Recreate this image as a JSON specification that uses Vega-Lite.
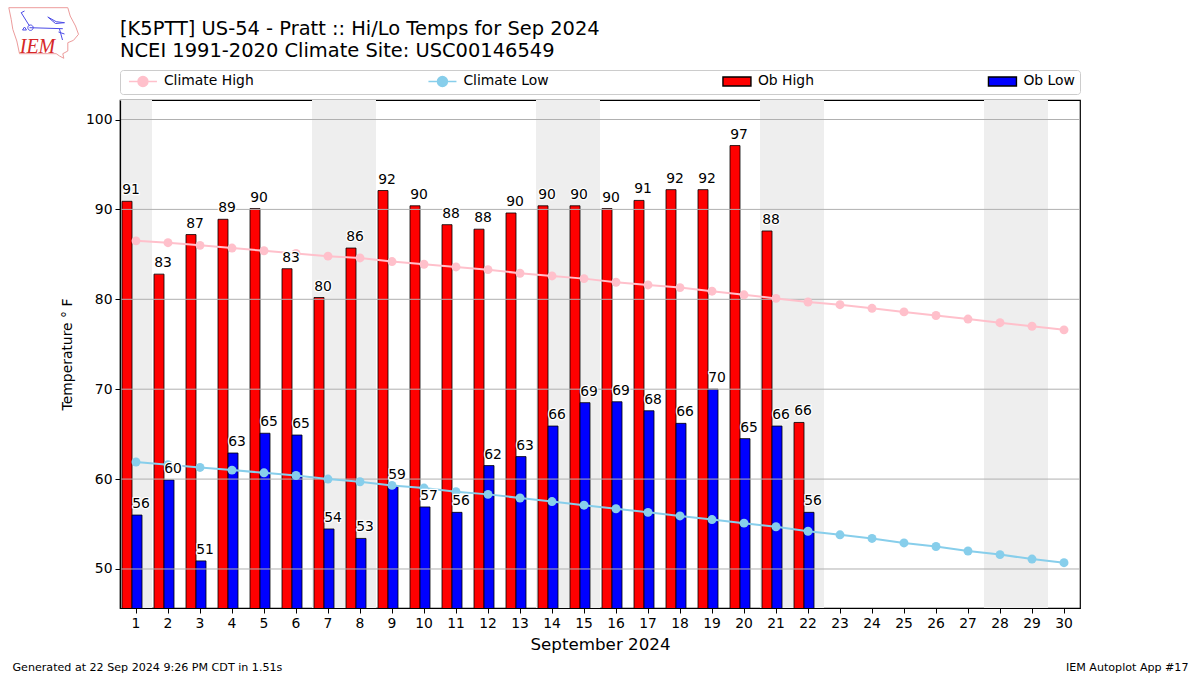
{"$schema":"https://vega.github.io/schema/vega-lite/v6.json","width":960,"height":508,"autosize":{"type":"none"},"padding":{"left":120,"top":100,"right":120,"bottom":67},"background":"white","config":{"view":{"stroke":"black","strokeWidth":1.2},"font":"DejaVu Sans","text":{"font":"DejaVu Sans"}},"title":{"text":["[K5PTT] US-54 - Pratt :: Hi/Lo Temps for Sep 2024","NCEI 1991-2020 Climate Site: USC00146549"],"anchor":"start","frame":"group","font":"DejaVu Sans","fontSize":19.45,"fontWeight":"normal","lineHeight":21.5,"offset":0,"dy":33,"color":"black"},"datasets":{"weekend":[{"day":1},{"day":7},{"day":8},{"day":14},{"day":15},{"day":21},{"day":22},{"day":28},{"day":29}],"grid":[{"value":50},{"value":60},{"value":70},{"value":80},{"value":90},{"value":100}],"obs":[{"day":1,"series":"Ob High","value":90.9},{"day":2,"series":"Ob High","value":82.8},{"day":3,"series":"Ob High","value":87.2},{"day":4,"series":"Ob High","value":88.9},{"day":5,"series":"Ob High","value":90.1},{"day":6,"series":"Ob High","value":83.4},{"day":7,"series":"Ob High","value":80.2},{"day":8,"series":"Ob High","value":85.7},{"day":9,"series":"Ob High","value":92.1},{"day":10,"series":"Ob High","value":90.4},{"day":11,"series":"Ob High","value":88.3},{"day":12,"series":"Ob High","value":87.8},{"day":13,"series":"Ob High","value":89.6},{"day":14,"series":"Ob High","value":90.4},{"day":15,"series":"Ob High","value":90.4},{"day":16,"series":"Ob High","value":90.1},{"day":17,"series":"Ob High","value":91.0},{"day":18,"series":"Ob High","value":92.2},{"day":19,"series":"Ob High","value":92.2},{"day":20,"series":"Ob High","value":97.1},{"day":21,"series":"Ob High","value":87.6},{"day":22,"series":"Ob High","value":66.3},{"day":1,"series":"Ob Low","value":56.0},{"day":2,"series":"Ob Low","value":59.9},{"day":3,"series":"Ob Low","value":50.9},{"day":4,"series":"Ob Low","value":62.9},{"day":5,"series":"Ob Low","value":65.1},{"day":6,"series":"Ob Low","value":64.9},{"day":7,"series":"Ob Low","value":54.45},{"day":8,"series":"Ob Low","value":53.4},{"day":9,"series":"Ob Low","value":59.2},{"day":10,"series":"Ob Low","value":56.9},{"day":11,"series":"Ob Low","value":56.3},{"day":12,"series":"Ob Low","value":61.5},{"day":13,"series":"Ob Low","value":62.5},{"day":14,"series":"Ob Low","value":65.9},{"day":15,"series":"Ob Low","value":68.5},{"day":16,"series":"Ob Low","value":68.6},{"day":17,"series":"Ob Low","value":67.6},{"day":18,"series":"Ob Low","value":66.2},{"day":19,"series":"Ob Low","value":70.0},{"day":20,"series":"Ob Low","value":64.5},{"day":21,"series":"Ob Low","value":65.9},{"day":22,"series":"Ob Low","value":56.3}],"climate":[{"day":1,"series":"Climate High","value":86.5},{"day":2,"series":"Climate High","value":86.3},{"day":3,"series":"Climate High","value":86.0},{"day":4,"series":"Climate High","value":85.7},{"day":5,"series":"Climate High","value":85.4},{"day":6,"series":"Climate High","value":85.1},{"day":7,"series":"Climate High","value":84.8},{"day":8,"series":"Climate High","value":84.6},{"day":9,"series":"Climate High","value":84.2},{"day":10,"series":"Climate High","value":83.9},{"day":11,"series":"Climate High","value":83.6},{"day":12,"series":"Climate High","value":83.3},{"day":13,"series":"Climate High","value":82.9},{"day":14,"series":"Climate High","value":82.6},{"day":15,"series":"Climate High","value":82.3},{"day":16,"series":"Climate High","value":81.9},{"day":17,"series":"Climate High","value":81.6},{"day":18,"series":"Climate High","value":81.3},{"day":19,"series":"Climate High","value":80.9},{"day":20,"series":"Climate High","value":80.5},{"day":21,"series":"Climate High","value":80.1},{"day":22,"series":"Climate High","value":79.7},{"day":23,"series":"Climate High","value":79.4},{"day":24,"series":"Climate High","value":79.0},{"day":25,"series":"Climate High","value":78.6},{"day":26,"series":"Climate High","value":78.2},{"day":27,"series":"Climate High","value":77.8},{"day":28,"series":"Climate High","value":77.4},{"day":29,"series":"Climate High","value":77.0},{"day":30,"series":"Climate High","value":76.6},{"day":1,"series":"Climate Low","value":61.9},{"day":2,"series":"Climate Low","value":61.6},{"day":3,"series":"Climate Low","value":61.3},{"day":4,"series":"Climate Low","value":61.0},{"day":5,"series":"Climate Low","value":60.7},{"day":6,"series":"Climate Low","value":60.4},{"day":7,"series":"Climate Low","value":60.0},{"day":8,"series":"Climate Low","value":59.7},{"day":9,"series":"Climate Low","value":59.3},{"day":10,"series":"Climate Low","value":59.0},{"day":11,"series":"Climate Low","value":58.6},{"day":12,"series":"Climate Low","value":58.3},{"day":13,"series":"Climate Low","value":57.9},{"day":14,"series":"Climate Low","value":57.5},{"day":15,"series":"Climate Low","value":57.1},{"day":16,"series":"Climate Low","value":56.7},{"day":17,"series":"Climate Low","value":56.3},{"day":18,"series":"Climate Low","value":55.9},{"day":19,"series":"Climate Low","value":55.5},{"day":20,"series":"Climate Low","value":55.1},{"day":21,"series":"Climate Low","value":54.7},{"day":22,"series":"Climate Low","value":54.2},{"day":23,"series":"Climate Low","value":53.8},{"day":24,"series":"Climate Low","value":53.4},{"day":25,"series":"Climate Low","value":52.9},{"day":26,"series":"Climate Low","value":52.5},{"day":27,"series":"Climate Low","value":52.0},{"day":28,"series":"Climate Low","value":51.6},{"day":29,"series":"Climate Low","value":51.1},{"day":30,"series":"Climate Low","value":50.7}]},"resolve":{"axis":{"y":"independent"},"scale":{"shape":"independent","fill":"independent","stroke":"independent","strokeWidth":"independent"},"legend":{"shape":"independent","fill":"independent","stroke":"independent","strokeWidth":"independent"}},"layer":[{"data":{"name":"weekend"},"mark":{"type":"rect","color":"#eeeeee"},"encoding":{"x":{"field":"day","type":"ordinal","scale":{"domain":[1,2,3,4,5,6,7,8,9,10,11,12,13,14,15,16,17,18,19,20,21,22,23,24,25,26,27,28,29,30],"paddingInner":0,"paddingOuter":0},"title":"September 2024","axis":{"labelAngle":0,"labelFont":"DejaVu Sans","labelFontSize":13.9,"labelColor":"black","labelPadding":3,"tickColor":"black","tickSize":5,"tickWidth":1,"domainColor":"black","domainWidth":1.2,"titleFont":"DejaVu Sans","titleFontSize":16.7,"titleFontWeight":"normal","titleColor":"black","titlePadding":7,"zindex":1}}}},{"data":{"name":"obs"},"mark":{"type":"bar","stroke":"black","strokeWidth":0.8,"clip":true},"encoding":{"x":{"field":"day","type":"ordinal"},"xOffset":{"field":"series","type":"nominal","scale":{"domain":["Ob High","Ob Low"],"paddingOuter":0.6,"paddingInner":0,"align":0.167}},"y":{"field":"value","type":"quantitative","scale":{"domain":[45.66,102.17],"zero":false,"nice":false},"axis":null},"color":{"field":"series","type":"nominal","scale":{"domain":["Climate High","Climate Low","Ob High","Ob Low"],"range":["pink","skyblue","red","blue"]},"legend":null}}},{"data":{"name":"grid"},"mark":{"type":"rule","color":"#b0b0b0","strokeWidth":1},"encoding":{"y":{"field":"value","type":"quantitative","axis":{"orient":"left","values":[50,60,70,80,90,100],"grid":false,"labelFont":"DejaVu Sans","labelFontSize":13.9,"labelColor":"black","labelPadding":3,"tickColor":"black","tickSize":5,"tickWidth":1,"domainColor":"black","domainWidth":1.2,"title":"Temperature ° F","zindex":1,"titleFont":"DejaVu Sans","titleFontSize":13.9,"titleFontWeight":"normal","titleColor":"black","titleX":-46,"titleY":254}}}},{"data":{"name":"climate"},"mark":{"type":"line","strokeWidth":2},"encoding":{"x":{"field":"day","type":"ordinal"},"y":{"field":"value","type":"quantitative","axis":null},"color":{"field":"series","type":"nominal","legend":null}}},{"data":{"name":"climate"},"mark":{"type":"circle","size":80,"opacity":1},"encoding":{"x":{"field":"day","type":"ordinal"},"y":{"field":"value","type":"quantitative","axis":null},"color":{"field":"series","type":"nominal","legend":null}}},{"data":{"name":"obs"},"mark":{"type":"text","font":"DejaVu Sans","fontSize":13.9,"baseline":"alphabetic","dx":4,"dy":-7,"stroke":"white","strokeWidth":2.5,"strokeJoin":"round"},"encoding":{"x":{"field":"day","type":"ordinal"},"xOffset":{"field":"series","type":"nominal"},"y":{"field":"value","type":"quantitative","axis":null},"text":{"field":"value","type":"quantitative","format":".0f"}}},{"data":{"name":"obs"},"mark":{"type":"text","font":"DejaVu Sans","fontSize":13.9,"baseline":"alphabetic","dx":4,"dy":-7,"color":"black"},"encoding":{"x":{"field":"day","type":"ordinal"},"xOffset":{"field":"series","type":"nominal"},"y":{"field":"value","type":"quantitative","axis":null},"text":{"field":"value","type":"quantitative","format":".0f"}}},{"data":{"values":[]},"mark":{"type":"point","filled":true,"opacity":1},"encoding":{"fill":{"field":"series","type":"nominal","scale":{"domain":["Climate High","Climate Low","Ob High","Ob Low"],"range":["pink","skyblue","red","blue"]},"legend":{"orient":"none","legendX":0,"legendY":-30,"title":null,"direction":"horizontal","columns":4,"gridAlign":"none","columnPadding":169.5,"padding":4.5,"strokeColor":"#cccccc","fillColor":"white","cornerRadius":3,"symbolSize":100,"symbolOpacity":1,"labelOffset":25.5,"labelFont":"DejaVu Sans","labelFontSize":13.9,"labelColor":"black","labelLimit":300}},"stroke":{"field":"series","type":"nominal","scale":{"domain":["Climate High","Climate Low","Ob High","Ob Low"],"range":["pink","skyblue","black","black"]},"legend":{"orient":"none","legendX":0,"legendY":-30,"title":null,"direction":"horizontal","columns":4,"gridAlign":"none","columnPadding":169.5,"padding":4.5,"strokeColor":"#cccccc","fillColor":"white","cornerRadius":3,"symbolSize":100,"symbolOpacity":1,"labelOffset":25.5,"labelFont":"DejaVu Sans","labelFontSize":13.9,"labelColor":"black","labelLimit":300}},"shape":{"field":"series","type":"nominal","scale":{"domain":["Climate High","Climate Low","Ob High","Ob Low"],"range":["M-0.5,0H5.1M1.3,0A1,1 0 1 1 3.3,0A1,1 0 1 1 1.3,0Z","M-0.5,0H5.1M1.3,0A1,1 0 1 1 3.3,0A1,1 0 1 1 1.3,0Z","M-0.5,-0.9H5.1V0.9H-0.5Z","M-0.5,-0.9H5.1V0.9H-0.5Z"]},"legend":{"orient":"none","legendX":0,"legendY":-30,"title":null,"direction":"horizontal","columns":4,"gridAlign":"none","columnPadding":169.5,"padding":4.5,"strokeColor":"#cccccc","fillColor":"white","cornerRadius":3,"symbolSize":100,"symbolOpacity":1,"symbolStrokeWidth":1.4,"labelOffset":25.5,"labelFont":"DejaVu Sans","labelFontSize":13.9,"labelColor":"black","labelLimit":300}}}},{"data":{"values":[]},"mark":{"type":"point"},"encoding":{"y":{"field":"value","type":"quantitative","axis":{"orient":"left","domain":false,"ticks":false,"labels":false,"grid":false,"title":"Generated at 22 Sep 2024 9:26 PM CDT in 1.51s","titleAngle":0,"titleAlign":"left","titleBaseline":"alphabetic","titleFont":"DejaVu Sans","titleFontSize":11.1,"titleFontWeight":"normal","titleColor":"black","titleX":-108,"titleY":570}}}},{"data":{"values":[]},"mark":{"type":"point"},"encoding":{"y":{"field":"value","type":"quantitative","axis":{"orient":"left","domain":false,"ticks":false,"labels":false,"grid":false,"title":"IEM Autoplot App #17","titleAngle":0,"titleAlign":"right","titleBaseline":"alphabetic","titleFont":"DejaVu Sans","titleFontSize":11.1,"titleFontWeight":"normal","titleColor":"black","titleX":1068,"titleY":570}}}},{"data":{"values":[]},"mark":{"type":"point"},"encoding":{"y":{"field":"value","type":"quantitative","axis":{"orient":"left","domain":false,"ticks":false,"labels":false,"grid":false,"title":"IEM","titleAngle":0,"titleAlign":"center","titleBaseline":"alphabetic","titleFont":"Liberation Serif","titleFontStyle":"italic","titleFontSize":20,"titleFontWeight":"normal","titleColor":"#d62728","titleX":-83,"titleY":-48}},"shape":{"field":"logo","type":"nominal","scale":{"domain":["outline"],"range":["M-34.7,-25.3L24.3,-25.3L26.7,-17L32,-7L35,1.3L30,7.3L24.3,9.7L24.3,18L19.3,20.7L20.3,25.3L16,23L12.7,20.7L-24,20.7L-26.7,8L-30.7,-3.7L-32.3,-13.7Z"]},"legend":{"orient":"none","legendX":-81.5,"legendY":-72,"title":null,"padding":0,"symbolSize":4,"labelExpr":"''","labelOffset":0,"symbolStrokeColor":"#e57373","symbolFillColor":"transparent","symbolStrokeWidth":1}}}},{"data":{"values":[]},"mark":{"type":"point"},"encoding":{"shape":{"field":"logo2","type":"nominal","scale":{"domain":["station"],"range":["M-14,-5.3L19.3,-4.3M-15.7,-5.3A2.7,2.7 0 1 1 -10.3,-5.3A2.7,2.7 0 1 1 -15.7,-5.3ZM4.3,-16L12.7,-11.3L21,-10.3L12,-9.5ZM-22.3,-20.3L-14,-7M-22.3,-20.3L-19,-22M16,-4L19,7M15,-1L21,1M-21,-3L-19,-6L-17,-3Z"]},"legend":{"orient":"none","legendX":-81.5,"legendY":-72,"title":null,"padding":0,"symbolSize":4,"labelExpr":"''","labelOffset":0,"symbolStrokeColor":"#0000dd","symbolFillColor":"#0000dd","symbolStrokeWidth":1}}}}]}
